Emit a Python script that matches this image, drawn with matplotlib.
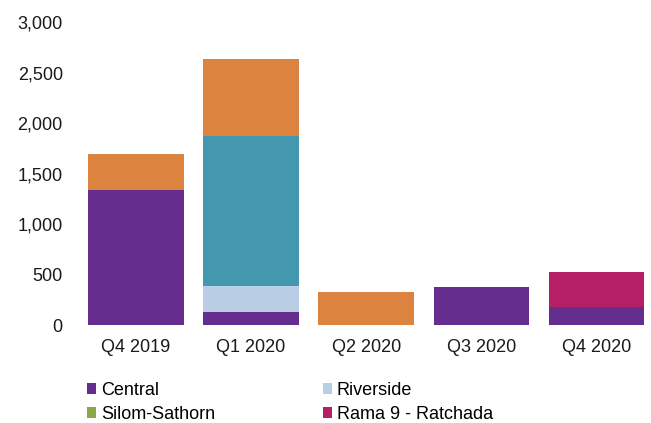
import numpy as np
import matplotlib
matplotlib.use('Agg')
import matplotlib.pyplot as plt
from matplotlib.patches import Patch

plt.rcParams['font.family'] = ['Liberation Sans', 'DejaVu Sans']

quarters = ['Q4 2019', 'Q1 2020', 'Q2 2020', 'Q3 2020', 'Q4 2020']

# stacked series, bottom to top
central = [1340, 130, 0, 380, 180]
riverside = [0, 260, 0, 0, 0]
silom_sathorn = [0, 0, 0, 0, 0]
rama9 = [0, 0, 0, 0, 350]
teal_series = [0, 1485, 0, 0, 0]
orange_series = [360, 765, 325, 0, 0]

series = [
    ('Central', central, '#652d8e'),
    ('Riverside', riverside, '#b9cde5'),
    ('Silom-Sathorn', silom_sathorn, '#8aa84a'),
    ('Rama 9 - Ratchada', rama9, '#b51f65'),
    ('_teal', teal_series, '#4398b0'),
    ('_orange', orange_series, '#dc843f'),
]

fig = plt.figure(figsize=(6.51, 4.23), dpi=100)
ax = fig.add_axes([0.12, 0.231, 0.885, 0.716])

x = np.arange(len(quarters))
bottom = np.zeros(len(quarters))
for name, vals, col in series:
    vals = np.array(vals, dtype=float)
    ax.bar(x, vals, width=0.83, bottom=bottom, color=col, linewidth=0)
    bottom += vals

ax.set_ylim(0, 3000)
ax.set_xlim(-0.5, len(quarters) - 0.5)
ax.set_yticks(np.arange(0, 3001, 500))
ax.set_yticklabels(['{:,}'.format(v) for v in range(0, 3001, 500)])
ax.set_xticks(x)
ax.set_xticklabels(quarters)
ax.tick_params(axis='both', length=0, labelsize=13, colors='#1a1a1a')
ax.tick_params(axis='y', pad=11)
ax.tick_params(axis='x', pad=10)
for s in ax.spines.values():
    s.set_visible(False)

handles = [Patch(facecolor=c, label=n) for n, v, c in series[:4]]
order = [0, 2, 1, 3]
fig.legend([handles[i] for i in order], [handles[i].get_label() for i in order],
           ncol=2, loc='upper left', bbox_to_anchor=(0.134, 0.098),
           frameon=False, fontsize=13, handlelength=0.5, handleheight=0.55,
           handletextpad=0.25, columnspacing=6.0, labelspacing=0.42,
           borderpad=0, borderaxespad=0)

fig.savefig('out.png', dpi=100)
